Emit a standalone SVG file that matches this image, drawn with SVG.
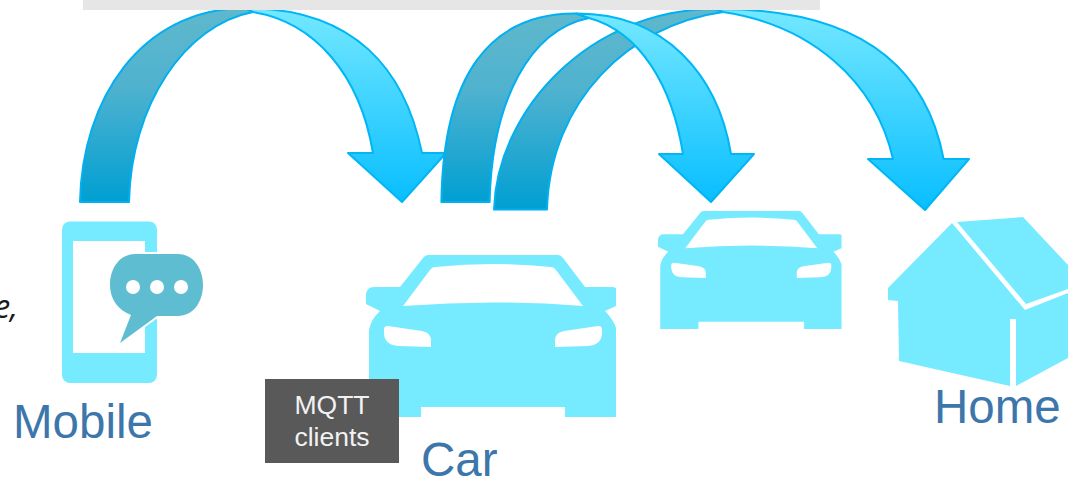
<svg xmlns="http://www.w3.org/2000/svg" width="1068" height="478" viewBox="0 0 1068 478">
<style>
.lbl{font-family:"Liberation Sans",Arial,sans-serif;font-size:47.5px;fill:#3d76aa}
.box{font-family:"Liberation Sans",Arial,sans-serif;font-size:26.5px;fill:#f2f2f2;text-anchor:middle}
.ic{fill:#76eaff}
.up{fill:url(#gUp);stroke:#00b0f0;stroke-width:2;stroke-linejoin:round}
.dn{fill:url(#gDn);stroke:#00b6f5;stroke-width:2;stroke-linejoin:round}
</style>
<defs>
<linearGradient id="gUp" x1="0" y1="0" x2="0" y2="1"><stop offset="0" stop-color="#5fb8cc"/><stop offset="0.4" stop-color="#50b2cf"/><stop offset="1" stop-color="#009fd2"/></linearGradient>
<linearGradient id="gDn" x1="0" y1="0" x2="0" y2="1"><stop offset="0" stop-color="#74e8ff"/><stop offset="1" stop-color="#08beff"/></linearGradient>
<path id="carShape" fill-rule="evenodd" d="M428 255H558Q561 255 563 258L585 287H612Q616 287 616 289V306L605 311Q613 319 616 328V417H565V407H421V417H369V330Q371 319 380 311L366 304V294Q367 287 374 287H400L423 258Q425 255 428 255ZM403 306Q493 299 583 306L556 270Q554 267 551 267Q493 261 435 267Q432 267 430 270ZM388 326L422 331Q431 333 431 340V347L398 346Q385 345 384 334V329Q384 326 388 326ZM598 326L564 331Q555 333 555 340V347L588 346Q601 345 602 334V329Q602 326 598 326Z"/>
</defs>
<rect width="1068" height="478" fill="#fff"/>
<g id="connectors">
<g id="arrow-mobile-car">
<path class="up" d="M80 202C82 100 140 9 245 8L253 12C185 25 131 105 129 202Z"/>
<path class="dn" d="M253 12C315 22 360 75 373 153H348L402 202L446 153H422C405 70 355 8 245 8Z"/>
</g>
<g id="arrow-car-home">
<path class="up" d="M494 209.5C497 110 590 9 715 9L723 12C630 25 550 100 547 209.5Z"/>
<path class="dn" d="M723 12C810 25 875 80 893 159H868L925 210L969 159H943.6C925 60 850 8 715 9Z"/>
</g>
<g id="arrow-car-car">
<path class="up" d="M441.4 202C443 75 490 13 576 13.5L589 18C530 30 492 100 489.6 202Z"/>
<path class="dn" d="M589 18C640 32 672 85 683 154H659L711 202L754 154H731C718 75 665 13 576 13.5Z"/>
</g>
</g>
<rect id="top-bar" x="83" y="0" width="737" height="10" fill="#e6e6e6"/>
<text id="clipped-text" x="18" y="318" text-anchor="end" font-family="'Open Sans',sans-serif" font-style="italic" font-size="32" fill="#1a1a1a">e,</text>
<g id="mobile">
<rect class="ic" x="62" y="221.5" width="95" height="161.5" rx="8"/>
<rect x="73" y="241" width="72" height="112" fill="#fff"/>
<path d="M135 254H178C193 254 203 268 203 285C203 302 193 316 178 316H157L120 343L131 315C118 310 110 299 110 285C110 268 120 254 135 254Z" fill="#5fbdd1" stroke="#fff" stroke-width="4" paint-order="stroke"/>
<circle cx="133" cy="287" r="7" fill="#fff"/><circle cx="157" cy="287" r="7" fill="#fff"/><circle cx="181" cy="287" r="7" fill="#fff"/>
<text class="lbl" x="13" y="438">Mobile</text>
</g>
<g id="car">
<use href="#carShape" class="ic"/>
<text class="lbl" x="421" y="476">Car</text>
</g>
<g id="car-small">
<use href="#carShape" class="ic" transform="matrix(.734 0 0 .728 389.4 25.4)"/>
</g>
<g id="home">
<path class="ic" d="M952 223L888 288V300L898 301L899 361L1010 386H1016L1068 358V293L1025 310Z"/>
<path class="ic" d="M957 222L1023 217L1068 265V289L1026 304Z"/>
<rect x="1010" y="319" width="6" height="68" fill="#fff"/>
<text class="lbl" x="934" y="423">Home</text>
</g>
<g id="mqtt-clients">
<rect x="265" y="379" width="134" height="84" fill="#595959"/>
<text class="box" x="332" y="414">MQTT</text>
<text class="box" x="332" y="446">clients</text>
</g>
</svg>
